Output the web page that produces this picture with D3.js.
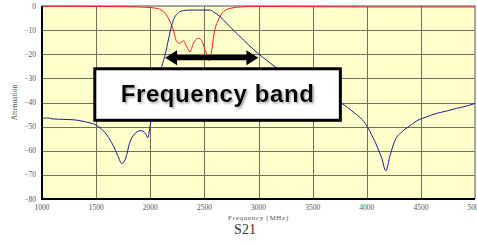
<!DOCTYPE html>
<html>
<head>
<meta charset="utf-8">
<title>S21</title>
<script src="https://d3js.org/d3.v7.min.js"></script>
<style>
  body { margin: 0; background: #fff; }
  svg { display: block; }
</style>
</head>
<body>
<div id="chart"></div>
<script>
// S21 transmission (blue) and reflection (red) in dB vs frequency (MHz)
var s21Freq = [1000, 1050, 1100, 1200, 1300, 1400, 1500, 1550, 1600, 1656, 1700, 1737, 1770, 1813, 1850, 1906, 1935, 1960, 1977, 1990, 2000,
               2030, 2060, 2090, 2106, 2137, 2167, 2199, 2229, 2260, 2306, 2368, 2450, 2553, 2583, 2645, 2707, 2768, 2830, 2910, 2999, 3075, 3153,
               3300, 3450, 3600, 3770, 3875, 3986, 4062, 4139, 4176, 4216, 4262, 4324, 4400, 4462, 4550, 4647, 4750, 4832, 4920, 5000];
var s21Db   = [-46.6, -46.4, -46.8, -47.0, -47.2, -48.0, -49.4, -51.0, -53.5, -57.7, -62.0, -65.3, -63.5, -56.3, -53.3, -51.7, -51.9, -53.3, -54.6, -52.2, -49.4,
               -42, -35, -28.5, -25.2, -20.3, -14.1, -7.9, -4.4, -2.8, -1.9, -1.7, -1.7, -1.7, -2.4, -4.4, -7.2, -10.0, -12.7, -16.2, -19.8, -22.5, -25.2,
               -29.5, -33.3, -36.7, -40.4, -43.9, -48.7, -54.9, -63.2, -68.3, -61.8, -55.6, -52.2, -49.6, -47.6, -46.0, -44.5, -43.4, -42.4, -41.5, -40.4];

var s11Freq = [1000, 1500, 1800, 1950, 2050, 2100, 2137, 2160, 2183, 2214, 2245, 2275, 2306, 2337, 2368, 2398, 2430, 2445, 2476, 2507, 2530, 2546,
               2568, 2590, 2629, 2676, 2737, 2830, 3000, 3500, 4000, 5000];
var s11Db   = [-0.1, -0.2, -0.3, -0.5, -0.9, -1.6, -3.0, -4.5, -6.5, -10.0, -14.8, -15.5, -14.4, -16.9, -19.0, -15.5, -13.6, -13.4, -14.4, -18.3, -21.0, -22.8,
               -18.3, -11.3, -5.8, -2.4, -1.0, -0.4, -0.2, -0.3, -0.4, -0.4];

var xTicks = [1000, 1500, 2000, 2500, 3000, 3500, 4000, 4500, 5000];
var yTicks = [0, -10, -20, -30, -40, -50, -60, -70, -80];

// annotation in data units
var bandStart = 2137, bandEnd = 2999, bandLevel = -21.4;
var boxFreq = [1474, 3770], boxDb = [-25.4, -48];

var W = 477, H = 246;
var margin = {left: 42, right: 2, top: 6, bottom: 47};

var svg = d3.select("#chart").append("svg").attr("width", W).attr("height", H);

var x = d3.scaleLinear().domain([1000, 5000]).range([margin.left, W - margin.right]);
var y = d3.scaleLinear().domain([-80, 0]).range([H - margin.bottom, margin.top]);

// plot background
svg.append("rect")
  .attr("x", x(1000)).attr("y", y(0))
  .attr("width", x(5000) - x(1000)).attr("height", y(-80) - y(0))
  .attr("fill", "#ffffcc");

// grid
svg.append("g").selectAll("line").data(xTicks.slice(1, -1)).enter().append("line")
  .attr("x1", d => Math.round(x(d)) + 0.5).attr("x2", d => Math.round(x(d)) + 0.5)
  .attr("y1", y(0)).attr("y2", y(-80))
  .attr("stroke", "#6f6f5a").attr("stroke-width", 1);
svg.append("g").selectAll("line").data(yTicks.slice(1, -1)).enter().append("line")
  .attr("y1", d => Math.round(y(d)) + 0.5).attr("y2", d => Math.round(y(d)) + 0.5)
  .attr("x1", x(1000)).attr("x2", x(5000))
  .attr("stroke", "#6f6f5a").attr("stroke-width", 1);

// top / right border
svg.append("path")
  .attr("d", "M" + x(1000) + "," + y(0) + "H" + x(5000) + "V" + y(-80))
  .attr("fill", "none").attr("stroke", "#8a8a8a").attr("stroke-width", 1.5);

// curves
var line = d3.line().curve(d3.curveMonotoneX);
var blue = s21Freq.map((f, i) => [x(f), y(s21Db[i])]);
var red = s11Freq.map((f, i) => [x(f), y(s11Db[i])]);

svg.append("path").attr("d", line(red))
  .attr("fill", "none").attr("stroke", "#ff1a1a").attr("stroke-width", 1);
svg.append("path").attr("d", line(blue))
  .attr("fill", "none").attr("stroke", "#1c1c8c").attr("stroke-width", 1);

// left / bottom axis lines
svg.append("path")
  .attr("d", "M" + x(1000) + "," + y(0) + "V" + y(-80) + "H" + x(5000))
  .attr("fill", "none").attr("stroke", "#000").attr("stroke-width", 2);

// tick labels
svg.append("g").selectAll("text").data(yTicks).enter().append("text")
  .attr("x", x(1000) - 6).attr("y", d => y(d) + 2.5)
  .attr("text-anchor", "end")
  .attr("font-family", "'Liberation Serif', serif").attr("font-size", 7.5)
  .attr("fill", "#555")
  .text(d => d === 0 ? "0" : "\u2212" + Math.abs(d));

svg.append("g").selectAll("text").data(xTicks).enter().append("text")
  .attr("x", d => x(d)).attr("y", y(-80) + 11)
  .attr("text-anchor", "middle")
  .attr("font-family", "'Liberation Serif', serif").attr("font-size", 7.5)
  .attr("fill", "#555")
  .text(d => d);

// axis titles
svg.append("text")
  .attr("x", (x(1000) + x(5000)) / 2).attr("y", y(-80) + 21)
  .attr("text-anchor", "middle")
  .attr("font-family", "'Liberation Serif', serif").attr("font-size", 7)
  .attr("fill", "#555").attr("letter-spacing", 0.7)
  .text("Frequency (MHz)");

svg.append("text")
  .attr("transform", "translate(17," + (y(0) + y(-80)) / 2 + ") rotate(-90)")
  .attr("text-anchor", "middle")
  .attr("font-family", "'Liberation Serif', serif").attr("font-size", 7.5)
  .attr("fill", "#555")
  .text("Attenuation");

svg.append("text")
  .attr("x", 245).attr("y", 234)
  .attr("text-anchor", "middle")
  .attr("font-family", "'Liberation Serif', serif").attr("font-size", 14)
  .attr("fill", "#333")
  .text("S21");

// frequency band arrow
var ax0 = x(bandStart), ax1 = x(bandEnd), ay = y(bandLevel);
var hl = 12, hh = 7.5, sh = 2.6;
svg.append("path")
  .attr("d", "M" + ax0 + "," + ay +
    "L" + (ax0 + hl) + "," + (ay - hh) + "L" + (ax0 + hl) + "," + (ay - sh) +
    "L" + (ax1 - hl) + "," + (ay - sh) + "L" + (ax1 - hl) + "," + (ay - hh) +
    "L" + ax1 + "," + ay +
    "L" + (ax1 - hl) + "," + (ay + hh) + "L" + (ax1 - hl) + "," + (ay + sh) +
    "L" + (ax0 + hl) + "," + (ay + sh) + "L" + (ax0 + hl) + "," + (ay + hh) + "Z")
  .attr("fill", "#000");

// label box
var bx0 = x(boxFreq[0]), bx1 = x(boxFreq[1]), by0 = y(boxDb[0]), by1 = y(boxDb[1]);
svg.append("rect")
  .attr("x", bx0 + 1.5).attr("y", by0 + 1.5)
  .attr("width", bx1 - bx0 - 3).attr("height", by1 - by0 - 3)
  .attr("fill", "#fff").attr("stroke", "#000").attr("stroke-width", 3);

var defs = svg.append("defs");
var f = defs.append("filter").attr("id", "ts").attr("x", "-10%").attr("y", "-30%").attr("width", "120%").attr("height", "160%");
f.append("feDropShadow").attr("dx", 1.5).attr("dy", 1.5).attr("stdDeviation", 1).attr("flood-color", "#888").attr("flood-opacity", 0.8);

svg.append("text")
  .attr("x", (bx0 + bx1) / 2).attr("y", by0 + 34.5)
  .attr("text-anchor", "middle")
  .attr("font-family", "'Liberation Sans', Arial, sans-serif").attr("font-weight", "bold")
  .attr("font-size", 24).attr("letter-spacing", 0.6)
  .attr("fill", "#000").attr("filter", "url(#ts)")
  .text("Frequency band");
</script>
</body>
</html>
